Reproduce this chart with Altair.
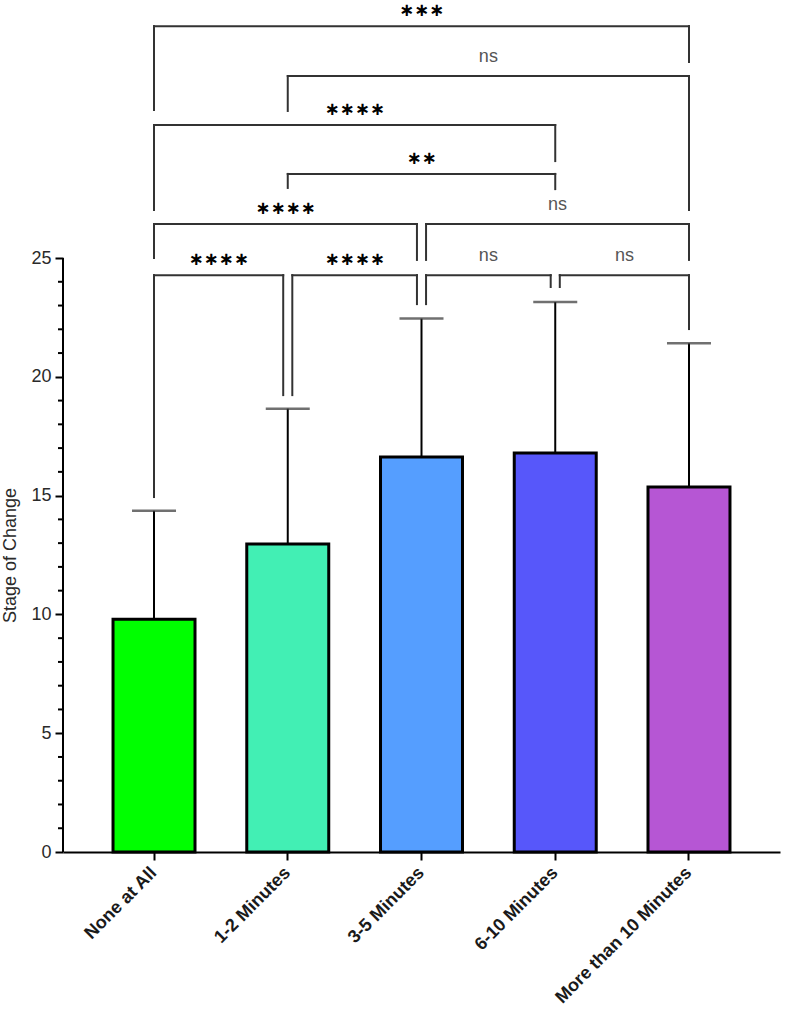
import altair as alt
import pandas as pd

# ---------------- data ----------------
groups = ["None at All", "1-2 Minutes", "3-5 Minutes", "6-10 Minutes", "More than 10 Minutes"]
means = [9.80, 12.96, 16.62, 16.79, 15.36]
sds = [4.56, 5.70, 5.83, 6.36, 6.05]
bar_colors = ["#00FF00", "#42EFB4", "#559EFF", "#5757FA", "#B656D4"]

y_major_ticks = [0, 5, 10, 15, 20, 25]
y_minor_ticks = [v for v in range(0, 26) if v % 5 != 0]

# significance brackets (group indices, heights and leg ends in data units)
br_left = [0, 1, 0, 1, 0, 2, 0, 1, 2, 3]
br_right = [4, 4, 3, 3, 2, 4, 1, 2, 3, 4]
br_height = [34.76, 32.66, 30.60, 28.54, 26.43, 26.43, 24.28, 24.28, 24.28, 24.28]
br_left_end = [31.23, 31.19, 27.02, 27.95, 25.00, 24.92, 14.94, 19.23, 23.06, 23.78]
br_right_end = [33.25, 27.02, 29.08, 27.90, 24.92, 24.92, 19.23, 23.06, 23.78, 22.01]
br_label = ["***", "ns", "****", "**", "****", "ns", "****", "****", "ns", "ns"]

# ---------------- layout constants ----------------
PAD_INNER = 0.387
PAD_OUTER = 0.374
NUDGE = 0.034
W, H = 717, 852
Y_TOP = 35.86
FONT = "Liberation Sans"

n = len(groups)
x_lo = -(PAD_OUTER + (1 - PAD_INNER) / 2)
x_hi = x_lo + (n - PAD_INNER + 2 * PAD_OUTER)

bars_df = pd.DataFrame({
    "group": groups,
    "mean": means,
    "top": [m + s for m, s in zip(means, sds)],
})

rows = []
for k in range(len(br_left)):
    others = [j for j in range(len(br_left)) if j != k and br_height[j] == br_height[k]]
    touched = set()
    for j in others:
        touched.add(br_left[j])
        touched.add(br_right[j])
    xl = br_left[k] + (NUDGE if br_left[k] in touched else 0)
    xr = br_right[k] - (NUDGE if br_right[k] in touched else 0)
    rows.append({
        "xl": xl, "xr": xr, "xm": (xl + xr) / 2,
        "h": br_height[k], "le": br_left_end[k], "re": br_right_end[k],
        "label": br_label[k],
        "glyph": br_label[k].replace("*", "\u2217"),
        "kind": "ns" if br_label[k] == "ns" else "star",
    })
br_df = pd.DataFrame(rows)

# ---------------- scales ----------------
yscale = alt.Scale(domain=[0, Y_TOP], nice=False, zero=True)
xband = alt.Scale(domain=groups, paddingInner=PAD_INNER, paddingOuter=PAD_OUTER)
xq = alt.Scale(domain=[x_lo, x_hi], nice=False, zero=False)

bars = alt.Chart(bars_df).mark_bar(stroke="black", strokeWidth=3).encode(
    x=alt.X("group:N", sort=groups, scale=xband,
            axis=alt.Axis(title=None, labelAngle=-45, labelAlign="right", labelBaseline="middle",
                          labelFont=FONT, labelFontSize=18, labelFontWeight="bold",
                          labelColor="#1a1a1a", labelPadding=10, labelLimit=400,
                          tickSize=8, tickWidth=2, tickColor="black",
                          domainColor="black", domainWidth=2)),
    y=alt.Y("mean:Q", scale=yscale,
            axis=alt.Axis(values=y_major_ticks, domain=False, grid=False,
                          tickSize=8, tickWidth=2, tickColor="black",
                          labelFont=FONT, labelFontSize=18, labelColor="#2a2a2a", labelPadding=4,
                          title="Stage of Change", titleFont=FONT, titleFontSize=18,
                          titleFontWeight="normal", titleColor="#2a2a2a",
                          titleAngle=270, titleX=-44, titleY=555, titleAlign="center",
                          titleBaseline="bottom")),
    color=alt.Color("group:N", scale=alt.Scale(domain=groups, range=bar_colors), legend=None),
)

whisker = alt.Chart(bars_df).mark_rule(color="black", strokeWidth=2).encode(
    x=alt.X("group:N", sort=groups, scale=xband, axis=None),
    y=alt.Y("mean:Q", scale=yscale, axis=None),
    y2="top:Q",
)

caps = alt.Chart(bars_df).mark_tick(color="#333333", thickness=2.5, size=44).encode(
    x=alt.X("group:N", sort=groups, scale=xband, axis=None),
    y=alt.Y("top:Q", scale=yscale, axis=None),
)

yaxis_line = alt.Chart(pd.DataFrame({"a": [0]})).mark_rule(color="black", strokeWidth=2).encode(
    x=alt.value(0),
    y=alt.Y("y0:Q", scale=yscale, axis=None),
    y2="y1:Q",
).transform_calculate(y0=str(y_major_ticks[0]), y1=str(y_major_ticks[-1]))

minor = alt.Chart(pd.DataFrame({"v": y_minor_ticks})).mark_rule(color="black", strokeWidth=2).encode(
    x=alt.value(-5), x2=alt.value(0),
    y=alt.Y("v:Q", scale=yscale, axis=None),
)

line_style = dict(color="#333333", strokeWidth=2, strokeCap="square")
br_h = alt.Chart(br_df).mark_rule(**line_style).encode(
    x=alt.X("xl:Q", scale=xq, axis=None), x2="xr:Q",
    y=alt.Y("h:Q", scale=yscale, axis=None),
)
br_l = alt.Chart(br_df).mark_rule(**line_style).encode(
    x=alt.X("xl:Q", scale=xq, axis=None),
    y=alt.Y("h:Q", scale=yscale, axis=None), y2="le:Q",
)
br_r = alt.Chart(br_df).mark_rule(**line_style).encode(
    x=alt.X("xr:Q", scale=xq, axis=None),
    y=alt.Y("h:Q", scale=yscale, axis=None), y2="re:Q",
)

stars = alt.Chart(br_df).transform_filter(alt.datum.kind == "star").mark_text(
    font="DejaVu Sans", fontSize=18, fontWeight="bold", color="black",
    baseline="alphabetic", dy=-10,
).encode(
    x=alt.X("xm:Q", scale=xq, axis=None),
    y=alt.Y("h:Q", scale=yscale, axis=None),
    text="glyph:N",
)
ns = alt.Chart(br_df).transform_filter(alt.datum.kind == "ns").mark_text(
    font=FONT, fontSize=18, color="#555555", baseline="alphabetic", dy=-14,
).encode(
    x=alt.X("xm:Q", scale=xq, axis=None),
    y=alt.Y("h:Q", scale=yscale, axis=None),
    text="glyph:N",
)

chart = alt.layer(
    bars, br_h, br_l, br_r, stars, ns, whisker, caps, minor, yaxis_line
).resolve_scale(x="independent").resolve_axis(y="independent").properties(
    width=W, height=H,
    padding={"left": 63, "top": 0, "right": 5, "bottom": 157},
    autosize=alt.AutoSizeParams(type="none"),
    background="white",
).configure_view(stroke=None)

chart.save("out.html", embed_options={"renderer": "svg", "actions": False})
